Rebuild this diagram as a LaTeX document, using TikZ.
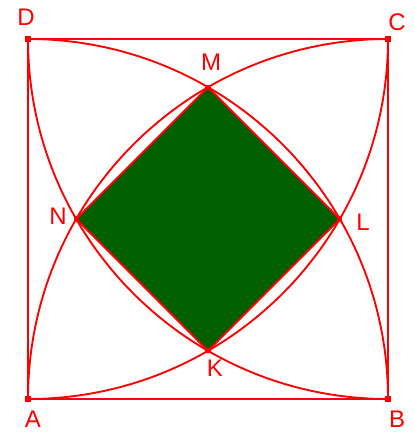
\documentclass[tikz,border=0pt]{standalone}
\usepackage{fontspec}
\setmainfont{Liberation Sans}
\usetikzlibrary{positioning}

\definecolor{leafgreen}{RGB}{0,96,0}

\begin{document}
\begin{tikzpicture}[
	x=0.75pt, y=0.75pt,
	edge/.style={red, line width=1.4pt},
	pt/.style={rectangle, fill=red, inner sep=0pt, minimum size=4pt},
	lbl/.style={text=red, font=\fontsize{18}{20}\selectfont},
]
	\useasboundingbox (0,0) rectangle (414,432);

	% corners of the square
	\node[pt] (A) at (28,33) {};
	\node[pt] (B) at (388,33) {};
	\node[pt] (C) at (388,393) {};
	\node[pt] (D) at (28,393) {};

	% intersection points of the arcs
	\node[pt] (M) at (208,344.8) {};
	\node[pt] (N) at (76.2,213) {};
	\node[pt] (K) at (208,81.2) {};
	\node[pt] (L) at (339.8,213) {};

	% inner square (green)
	\fill[leafgreen] (M.center) -- (N.center) -- (K.center) -- (L.center) -- cycle;
	\draw[edge] (M.center) -- (N.center) -- (K.center) -- (L.center) -- cycle;

	% outer square
	\draw[edge] (A.center) -- (B.center) -- (C.center) -- (D.center) -- cycle;

	% quarter arcs centred at each corner
	\draw[edge] (B.center) arc[start angle=0, end angle=90, radius=360];
	\draw[edge] (C.center) arc[start angle=90, end angle=180, radius=360];
	\draw[edge] (D.center) arc[start angle=180, end angle=270, radius=360];
	\draw[edge] (A.center) arc[start angle=270, end angle=360, radius=360];

	% redraw the points on top
	\foreach \p in {A,B,C,D,M,N,K,L}
		\fill[red] ([xshift=-2pt,yshift=-2pt]\p.center) rectangle ([xshift=2pt,yshift=2pt]\p.center);

	% labels
	\node[lbl] (lA) at (33,13) {A};
	\node[lbl] (lB) at (397,13) {B};
	\node[lbl] (lC) at (397,410) {C};
	\node[lbl] (lD) at (26,415) {D};
	\node[lbl] (lM) at (211,370) {M};
	\node[lbl] (lN) at (58,216) {N};
	\node[lbl] (lK) at (215,64) {K};
	\node[lbl] (lL) at (363,210) {L};

\end{tikzpicture}
\end{document}
